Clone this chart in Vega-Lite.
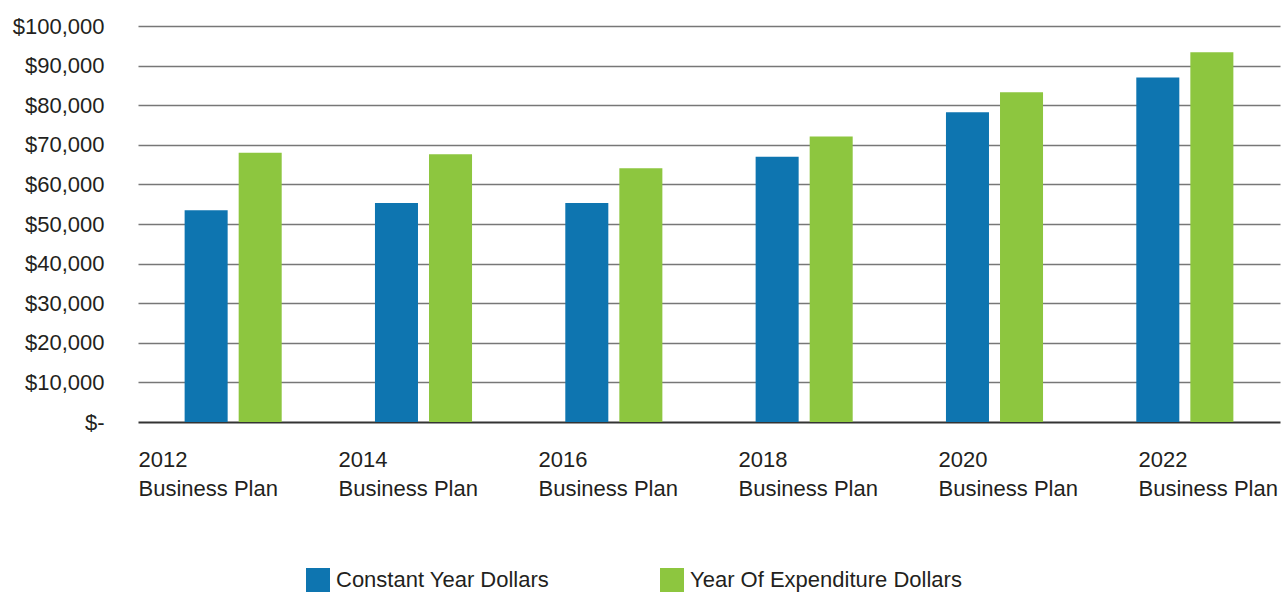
{
  "$schema": "https://vega.github.io/schema/vega-lite/v6.json",
  "width": 1142,
  "height": 396,
  "autosize": "none",
  "padding": {"left": 138, "top": 26, "right": 7, "bottom": 173},
  "background": "white",
  "config": {
    "font": "Liberation Sans",
    "view": {"stroke": null}
  },
  "data": {
    "values": [
      {"plan": "2012 Business Plan", "series": "Constant Year Dollars", "amount": 53500},
      {"plan": "2012 Business Plan", "series": "Year Of Expenditure Dollars", "amount": 68000},
      {"plan": "2014 Business Plan", "series": "Constant Year Dollars", "amount": 55300},
      {"plan": "2014 Business Plan", "series": "Year Of Expenditure Dollars", "amount": 67600},
      {"plan": "2016 Business Plan", "series": "Constant Year Dollars", "amount": 55300},
      {"plan": "2016 Business Plan", "series": "Year Of Expenditure Dollars", "amount": 64100},
      {"plan": "2018 Business Plan", "series": "Constant Year Dollars", "amount": 67000},
      {"plan": "2018 Business Plan", "series": "Year Of Expenditure Dollars", "amount": 72100},
      {"plan": "2020 Business Plan", "series": "Constant Year Dollars", "amount": 78200},
      {"plan": "2020 Business Plan", "series": "Year Of Expenditure Dollars", "amount": 83300},
      {"plan": "2022 Business Plan", "series": "Constant Year Dollars", "amount": 87000},
      {"plan": "2022 Business Plan", "series": "Year Of Expenditure Dollars", "amount": 93400}
    ]
  },
  "layer": [
    {
      "mark": {"type": "bar"},
      "encoding": {
        "x": {
          "field": "plan",
          "type": "nominal",
          "sort": null,
          "scale": {"paddingInner": 0.49, "paddingOuter": 0.245},
          "axis": null
        },
        "xOffset": {
          "field": "series",
          "type": "nominal",
          "scale": {"paddingInner": 0.204, "paddingOuter": 0}
        },
        "y": {
          "field": "amount",
          "type": "quantitative",
          "scale": {"domain": [0, 100000], "nice": false},
          "axis": {
            "title": null,
            "values": [0, 10000, 20000, 30000, 40000, 50000, 60000, 70000, 80000, 90000, 100000],
            "labelExpr": "datum.value === 0 ? '$-' : '$' + format(datum.value, ',')",
            "labelFontSize": 22,
            "labelColor": "#231f20",
            "labelPadding": 34,
            "ticks": false,
            "domain": false,
            "grid": true,
            "gridColor": {"condition": {"test": "datum.value === 0", "value": "#333333"}, "value": "#777777"},
            "gridWidth": {"condition": {"test": "datum.value === 0", "value": 2}, "value": 1.5}
          }
        },
        "color": {
          "field": "series",
          "type": "nominal",
          "scale": {
            "domain": ["Constant Year Dollars", "Year Of Expenditure Dollars"],
            "range": ["#0e75b0", "#8dc63f"]
          },
          "legend": {
            "title": null,
            "orient": "none",
            "direction": "horizontal",
            "columns": 2,
            "legendX": 168,
            "legendY": 542,
            "symbolType": "square",
            "symbolSize": 576,
            "symbolStrokeWidth": 0,
            "symbolOpacity": 1,
            "labelFontSize": 22,
            "labelColor": "#231f20",
            "labelOffset": 6,
            "labelLimit": 400,
            "columnPadding": 110
          }
        }
      }
    },
    {
      "mark": {"type": "text", "opacity": 0},
      "encoding": {
        "x": {
          "field": "plan",
          "type": "nominal",
          "sort": null,
          "scale": {"type": "point", "range": [0, 1000], "padding": 0},
          "axis": {
            "title": null,
            "orient": "bottom",
            "domain": false,
            "ticks": false,
            "grid": false,
            "labelAngle": 0,
            "labelAlign": "left",
            "labelBaseline": "top",
            "labelFontSize": 22,
            "labelColor": "#231f20",
            "labelLineHeight": 29,
            "labelPadding": 27,
            "labelLimit": 300,
            "labelOverlap": false,
            "labelExpr": "[substring(datum.value, 0, 4), substring(datum.value, 5)]"
          }
        },
        "text": {"field": "plan"}
      }
    }
  ],
  "resolve": {"scale": {"x": "independent"}, "axis": {"x": "independent"}}
}
